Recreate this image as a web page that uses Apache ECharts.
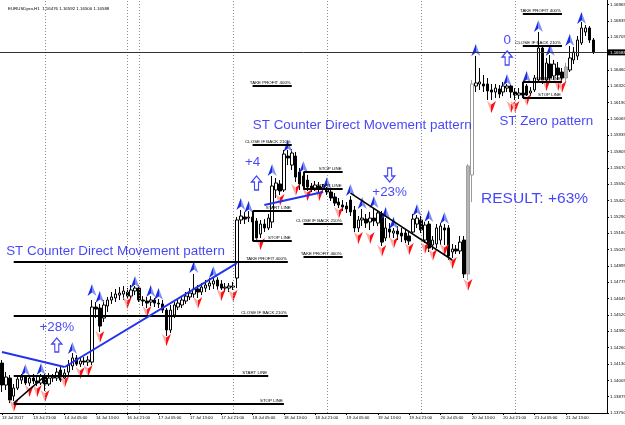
<!DOCTYPE html>
<html>
<head>
    <meta charset="utf-8">
    <title>EURUSDpro,H1</title>
    <script src="https://cdn.jsdelivr.net/npm/echarts@6.0.0/dist/echarts.min.js"></script>
    <style>
        html, body { margin: 0; padding: 0; background: #fff; }
        #chart { width: 625px; height: 425px; }
    </style>
</head>
<body>
<div id="chart"></div>
<script>
// time labels, one every 8 bars
var tickLabels = ['13 Jul 2017', '13 Jul 21:00', '14 Jul 05:00', '14 Jul 13:00', '16 Jul 21:00', '17 Jul 05:00',
    '17 Jul 13:00', '17 Jul 21:00', '18 Jul 05:00', '18 Jul 13:00', '18 Jul 21:00', '19 Jul 05:00', '19 Jul 13:00',
    '19 Jul 21:00', '20 Jul 05:00', '20 Jul 13:00', '20 Jul 21:00', '21 Jul 05:00', '21 Jul 13:00'];

// price scale labels from bottom to top ('' = hidden under the price box)
var priceLabels = ['1.13750', '1.13875', '1.14005', '1.14130', '1.14260', '1.14390', '1.14520', '1.14645', '1.14775',
    '1.14895', '1.15025', '1.15160', '1.15290', '1.15420', '1.15550', '1.15670', '1.15805', '1.15935', '1.16065',
    '1.16190', '1.16320', '1.16460', '', '1.16705', '1.16835', '1.16965'];
var priceMin = 1.1375, priceMax = 1.17, priceStep = 0.001286;
var lastPrice = 1.16588;
var header = 'EURUSDpro,H1  1.16476 1.16592 1.16500 1.16588';

// H1 bars: [open, close, low, high]
var candles = [
    [1.14143, 1.13970, 1.13915, 1.14167], [1.13970, 1.14033, 1.13931, 1.14072], [1.14025, 1.13852, 1.13828, 1.14049],
    [1.13883, 1.13946, 1.13844, 1.13978], [1.13946, 1.14017, 1.13931, 1.14049], [1.14009, 1.14033, 1.13978, 1.14057],
    [1.14033, 1.13986, 1.13970, 1.14049], [1.13986, 1.14025, 1.13962, 1.14041], [1.14025, 1.14002, 1.13978, 1.14057],
    [1.14002, 1.13986, 1.13962, 1.14033], [1.13986, 1.14041, 1.13970, 1.14057], [1.14041, 1.13978, 1.13923, 1.14057],
    [1.13978, 1.14025, 1.13962, 1.14064], [1.14025, 1.14033, 1.13994, 1.14057], [1.14025, 1.14072, 1.14002, 1.14104],
    [1.14088, 1.14009, 1.13994, 1.14112], [1.14025, 1.14064, 1.14017, 1.14096], [1.14072, 1.14127, 1.14041, 1.14167],
    [1.14120, 1.14183, 1.14088, 1.14222], [1.14183, 1.14135, 1.14120, 1.14206], [1.14135, 1.14159, 1.14112, 1.14190],
    [1.14159, 1.14151, 1.14127, 1.14190], [1.14151, 1.14167, 1.14120, 1.14198], [1.14151, 1.14584, 1.14127, 1.14639],
    [1.14584, 1.14568, 1.14497, 1.14623], [1.14576, 1.14434, 1.14387, 1.14608], [1.14497, 1.14600, 1.14466, 1.14639],
    [1.14592, 1.14639, 1.14545, 1.14663], [1.14639, 1.14663, 1.14608, 1.14702], [1.14655, 1.14686, 1.14623, 1.14726],
    [1.14678, 1.14694, 1.14639, 1.14741], [1.14686, 1.14710, 1.14639, 1.14749], [1.14702, 1.14670, 1.14647, 1.14733],
    [1.14670, 1.14718, 1.14647, 1.14757], [1.14710, 1.14733, 1.14678, 1.14749], [1.14733, 1.14639, 1.14623, 1.14757],
    [1.14639, 1.14631, 1.14592, 1.14670], [1.14631, 1.14615, 1.14576, 1.14663], [1.14623, 1.14639, 1.14592, 1.14670],
    [1.14639, 1.14615, 1.14584, 1.14655], [1.14615, 1.14608, 1.14576, 1.14647], [1.14608, 1.14560, 1.14537, 1.14639],
    [1.14560, 1.14403, 1.14356, 1.14576], [1.14403, 1.14560, 1.14379, 1.14600], [1.14521, 1.14600, 1.14497, 1.14623],
    [1.14584, 1.14615, 1.14560, 1.14655], [1.14600, 1.14639, 1.14576, 1.14670], [1.14631, 1.14670, 1.14608, 1.14702],
    [1.14663, 1.14694, 1.14639, 1.14733], [1.14686, 1.14726, 1.14655, 1.14844], [1.14726, 1.14702, 1.14655, 1.14757],
    [1.14702, 1.14741, 1.14678, 1.14773], [1.14733, 1.14757, 1.14702, 1.14796], [1.14749, 1.14773, 1.14718, 1.14812],
    [1.14765, 1.14789, 1.14726, 1.14820], [1.14796, 1.14749, 1.14718, 1.14820], [1.14765, 1.14733, 1.14718, 1.14796],
    [1.14733, 1.14741, 1.14702, 1.14773], [1.14733, 1.14749, 1.14702, 1.14773], [1.14741, 1.14749, 1.14718, 1.14781],
    [1.14812, 1.15269, 1.14733, 1.15292], [1.15269, 1.15300, 1.15237, 1.15347], [1.15292, 1.15276, 1.15237, 1.15332],
    [1.15284, 1.15292, 1.15253, 1.15339], [1.15292, 1.15253, 1.15221, 1.15332], [1.15261, 1.15127, 1.15095, 1.15284],
    [1.15158, 1.15237, 1.15127, 1.15269], [1.15237, 1.15206, 1.15174, 1.15276], [1.15206, 1.15284, 1.15190, 1.15316],
    [1.15253, 1.15536, 1.15206, 1.15615], [1.15505, 1.15560, 1.15442, 1.15599], [1.15552, 1.15497, 1.15465, 1.15583],
    [1.15505, 1.15788, 1.15489, 1.15820], [1.15772, 1.15757, 1.15701, 1.15820], [1.15701, 1.15796, 1.15662, 1.15827],
    [1.15772, 1.15607, 1.15568, 1.15804], [1.15646, 1.15552, 1.15505, 1.15678], [1.15615, 1.15536, 1.15505, 1.15646],
    [1.15583, 1.15528, 1.15497, 1.15623], [1.15536, 1.15520, 1.15489, 1.15560], [1.15520, 1.15544, 1.15497, 1.15576],
    [1.15536, 1.15513, 1.15489, 1.15568], [1.15513, 1.15528, 1.15489, 1.15552], [1.15520, 1.15489, 1.15465, 1.15528],
    [1.15489, 1.15442, 1.15418, 1.15513], [1.15450, 1.15402, 1.15379, 1.15481], [1.15410, 1.15387, 1.15363, 1.15442],
    [1.15387, 1.15371, 1.15339, 1.15426], [1.15379, 1.15355, 1.15324, 1.15410], [1.15426, 1.15332, 1.15300, 1.15457],
    [1.15347, 1.15206, 1.15174, 1.15379], [1.15206, 1.15269, 1.15174, 1.15300], [1.15269, 1.15284, 1.15221, 1.15355],
    [1.15276, 1.15245, 1.15206, 1.15316], [1.15253, 1.15284, 1.15190, 1.15332], [1.15284, 1.15261, 1.15221, 1.15363],
    [1.15245, 1.15324, 1.15221, 1.15347], [1.15316, 1.15095, 1.15064, 1.15339], [1.15127, 1.15206, 1.15103, 1.15284],
    [1.15198, 1.15174, 1.15127, 1.15245], [1.15166, 1.15182, 1.15127, 1.15206], [1.15182, 1.15158, 1.15111, 1.15221],
    [1.15166, 1.15143, 1.15095, 1.15206], [1.15166, 1.15111, 1.15088, 1.15198], [1.15143, 1.15103, 1.15072, 1.15174],
    [1.15174, 1.15276, 1.15158, 1.15316], [1.15237, 1.15284, 1.15206, 1.15308], [1.15269, 1.15190, 1.15166, 1.15300],
    [1.15111, 1.15229, 1.15088, 1.15253], [1.15237, 1.15048, 1.15017, 1.15261], [1.15072, 1.15111, 1.15033, 1.15143],
    [1.15080, 1.15206, 1.15048, 1.15237], [1.15111, 1.15221, 1.15072, 1.15245], [1.15206, 1.15190, 1.15072, 1.15237],
    [1.15206, 1.14985, 1.14954, 1.15229], [1.15017, 1.15040, 1.14970, 1.15080], [1.15040, 1.15025, 1.15001, 1.15072],
    [1.15025, 1.15095, 1.15001, 1.15143], [1.15111, 1.14844, 1.14812, 1.15143], [1.14844, 1.15694, 1.14796, 1.15709],
    [1.15623, 1.16339, 1.15410, 1.16370], [1.16323, 1.16347, 1.16276, 1.16559], [1.16339, 1.16355, 1.16292, 1.16465],
    [1.16339, 1.16323, 1.16276, 1.16410], [1.16339, 1.16284, 1.16213, 1.16386], [1.16292, 1.16276, 1.16213, 1.16339],
    [1.16276, 1.16307, 1.16229, 1.16339], [1.16300, 1.16260, 1.16229, 1.16331], [1.16276, 1.16323, 1.16244, 1.16355],
    [1.16307, 1.16323, 1.16276, 1.16339], [1.16323, 1.16276, 1.16229, 1.16339], [1.16276, 1.16252, 1.16213, 1.16307],
    [1.16252, 1.16268, 1.16221, 1.16307], [1.16268, 1.16252, 1.16229, 1.16339], [1.16323, 1.16252, 1.16244, 1.16339],
    [1.16268, 1.16284, 1.16244, 1.16315], [1.16292, 1.16386, 1.16276, 1.16410], [1.16370, 1.16622, 1.16355, 1.16748],
    [1.16622, 1.16370, 1.16339, 1.16646], [1.16370, 1.16504, 1.16363, 1.16544], [1.16496, 1.16386, 1.16355, 1.16567],
    [1.16402, 1.16496, 1.16370, 1.16528], [1.16465, 1.16410, 1.16370, 1.16512], [1.16433, 1.16386, 1.16355, 1.16465],
    [1.16386, 1.16473, 1.16355, 1.16504], [1.16449, 1.16544, 1.16433, 1.16638], [1.16528, 1.16591, 1.16496, 1.16630],
    [1.16559, 1.16685, 1.16528, 1.16717], [1.16662, 1.16780, 1.16646, 1.16827], [1.16748, 1.16780, 1.16717, 1.16803],
    [1.16780, 1.16685, 1.16662, 1.16795], [1.16685, 1.16588, 1.16575, 1.16701]
];
var emptyBarsRight = 3;
var grayBars = [119, 144];
var grayOutlineBars = [120];

// signal arrows [bar, price]
var upArrows = [[6, 1.14088], [10, 1.14096], [18, 1.14261], [23, 1.14718], [25, 1.14663], [34, 1.14781], [38, 1.14710],
    [40, 1.14686], [49, 1.14899], [54, 1.14859], [61, 1.15395], [63, 1.15371], [69, 1.15662], [73, 1.15851],
    [77, 1.15686], [83, 1.15560], [89, 1.15505], [92, 1.15402], [95, 1.15410], [98, 1.15324], [100, 1.15245],
    [106, 1.15347], [109, 1.15300], [113, 1.15284], [121, 1.16607], [129, 1.16370], [134, 1.16394], [137, 1.16795],
    [140, 1.16607], [145, 1.16685], [148, 1.16858]];
var downArrows = [[3, 1.13805], [7, 1.13923], [9, 1.13923], [11, 1.13883], [16, 1.13994], [20, 1.14064], [22, 1.14080],
    [25, 1.14348], [32, 1.14615], [37, 1.14545], [42, 1.14324], [50, 1.14615], [56, 1.14678], [59, 1.14670],
    [66, 1.15080], [71, 1.15426], [75, 1.15505], [78, 1.15465], [81, 1.15465], [86, 1.15324], [91, 1.15127],
    [94, 1.15127], [97, 1.15025], [100, 1.15088], [104, 1.15040], [108, 1.15048], [110, 1.14993], [113, 1.15033],
    [115, 1.14930], [119, 1.14757], [125, 1.16158], [130, 1.16158], [131, 1.16158], [134, 1.16213], [139, 1.16331],
    [142, 1.16331], [143, 1.16315]];

// pattern levels [text, first bar, last bar, price]
var levels = [
    ['TAKE PROFIT 400%', 3, 73, 1.14938], ['CLOSE IF BACK 210%', 3, 73, 1.14513],
    ['START LINE', 3, 68, 1.14041], ['STOP LINE', 3, 72, 1.13821],
    ['TAKE PROFIT 400%', 64, 74, 1.16323], ['CLOSE IF BACK 210%', 64, 74, 1.15859],
    ['START LINE', 64, 74, 1.15339], ['STOP LINE', 64, 74, 1.15103],
    ['STOP LINE', 77, 87, 1.15646], ['START LINE', 77, 87, 1.15513],
    ['CLOSE IF BACK 210%', 77, 87, 1.15237], ['TAKE PROFIT 400%', 77, 87, 1.14977],
    ['TAKE PROFIT 400%', 133, 143, 1.16890], ['CLOSE IF BACK 210%', 133, 143, 1.16638],
    ['START LINE', 133, 143, 1.16355], ['STOP LINE', 133, 143, 1.16229]
];
// bracket between start and stop [bar, price1, price2]
var brackets = [[64, 1.15339, 1.15103], [77, 1.15646, 1.15513], [133, 1.16355, 1.16229]];
var blueLines = [[[0, 1.14230], [16, 1.14112]], [[16, 1.14112], [60, 1.14930]], [[67, 1.15387], [82, 1.15489]]];
var blackLines = [[[3, 1.13828], [11, 1.14041]], [[89, 1.15481], [115, 1.14954]]];
var daySeparators = [11, 32, 35, 59, 83, 107, 131];

// big hollow arrows [direction, bar, price]
var hollowArrows = [['up', 14, 1.14285], ['up', 65, 1.15560], ['down', 99, 1.15623], ['up', 129, 1.16544]];
// comments [text, bar, price]
var notes = [
    ['ST Counter Direct Movement pattern', 29, 1.15025], ['ST Counter Direct Movement pattern', 92, 1.16016],
    ['ST Zero pattern', 139, 1.16048], ['RESULT: +63%', 136, 1.15434],
    ['+28%', 14, 1.14426], ['+4', 64, 1.15725], ['+23%', 99, 1.15489], ['0', 129, 1.16685]
];

var chart = echarts.init(document.getElementById('chart'), null, {renderer: 'canvas'});

var categories = [];
for (var i = 0; i < candles.length + emptyBarsRight; i++) categories.push(String(i));

var barData = candles.map(function (c, i) {
    if (grayBars.indexOf(i) >= 0)
        return {value: c, itemStyle: {color: '#b4b4b4', color0: '#b4b4b4', borderColor: '#a0a0a0', borderColor0: '#a0a0a0'}};
    if (grayOutlineBars.indexOf(i) >= 0)
        return {value: c, itemStyle: {color: '#fff', borderColor: '#9a9a9a'}};
    return c;
});

var smallFont = 4.4;
var blue = '#1717f5';

// lines of the trading patterns, on the candles
var marks = [];
levels.forEach(function (l) {
    marks.push([
        {coord: [l[1], l[3]], lineStyle: {color: '#000', width: 2, type: 'solid'},
            label: {show: true, position: 'insideEndTop', distance: 1, formatter: l[0], fontSize: smallFont, color: '#000'}},
        {coord: [l[2], l[3]]}
    ]);
});
brackets.forEach(function (b) {
    marks.push([{coord: [b[0], b[1]], lineStyle: {color: '#000', width: 2, type: 'solid'}, label: {show: false}},
        {coord: [b[0], b[2]]}]);
});
blueLines.forEach(function (s) {
    marks.push([{coord: s[0], lineStyle: {color: '#2233ee', width: 2, type: 'solid'}, label: {show: false}}, {coord: s[1]}]);
});
blackLines.forEach(function (s) {
    marks.push([{coord: s[0], lineStyle: {color: '#000', width: 1.5, type: 'solid'}, label: {show: false}}, {coord: s[1]}]);
});

// separators and price line go on a plain scatter series
var gridMarks = [];
daySeparators.forEach(function (b) {
    gridMarks.push({xAxis: b, label: {show: false}, lineStyle: {color: '#8c8c8c', width: 1, type: [1, 2]}});
});
gridMarks.push({yAxis: lastPrice, lineStyle: {color: '#333', width: 1, type: 'solid'},
    label: {show: true, position: 'end', distance: 1, formatter: lastPrice.toFixed(5), color: '#fff',
        backgroundColor: '#000', fontSize: smallFont, padding: [1, 2]}});

function halfFill(left, right) {
    return {type: 'linear', x: 0, y: 0, x2: 1, y2: 0, colorStops: [
        {offset: 0, color: left}, {offset: 0.5, color: left}, {offset: 0.5, color: right}, {offset: 1, color: right}]};
}

var option = {
    animation: false,
    backgroundColor: '#fff',
    textStyle: {fontFamily: 'Liberation Sans, Arial, sans-serif'},
    title: {text: header, left: 3, top: 2, textStyle: {fontSize: smallFont, fontWeight: 'normal', color: '#000'}},
    grid: {left: 0, right: 18, top: 0, bottom: 12, containLabel: false, outerBoundsMode: 'none'},
    xAxis: {
        type: 'category',
        data: categories,
        boundaryGap: true,
        axisLine: {lineStyle: {color: '#000', width: 1}},
        axisTick: {show: true, alignWithLabel: true, length: 2, lineStyle: {color: '#000'},
            interval: function (idx) { return idx % 8 === 0 && idx < candles.length; }},
        axisLabel: {
            fontSize: 4.2, color: '#000', align: 'left', margin: 3,
            interval: function (idx) { return idx % 8 === 0 && idx < candles.length; },
            formatter: function (v, idx) { return tickLabels[idx / 8] || ''; }
        },
        splitLine: {show: false}
    },
    yAxis: {
        type: 'value',
        position: 'right',
        min: priceMin,
        max: priceMax,
        interval: priceStep,
        axisLine: {show: true, lineStyle: {color: '#000', width: 1}},
        axisTick: {show: true, length: 2, lineStyle: {color: '#000'}},
        splitLine: {show: false},
        axisLabel: {
            fontSize: 4.4, color: '#000', margin: 3, showMaxLabel: false,
            formatter: function (v) {
                var k = Math.round((v - priceMin) / priceStep);
                if (Math.abs(v - (priceMin + k * priceStep)) > priceStep * 0.1) return '';
                return priceLabels[k] || '';
            }
        }
    },
    series: [
        {
            name: 'grid marks',
            type: 'scatter',
            data: [],
            markLine: {silent: true, symbol: ['none', 'none'], precision: 5, animation: false, data: gridMarks},
            z: 1
        },
        {
            name: 'EURUSDpro',
            type: 'candlestick',
            data: barData,
            barWidth: 3,
            itemStyle: {color: '#fff', color0: '#000', borderColor: '#000', borderColor0: '#000', borderWidth: 1},
            markLine: {silent: true, symbol: ['none', 'none'], precision: 5, animation: false, data: marks}
        },
        {
            name: 'up signal',
            type: 'scatter',
            data: upArrows,
            symbol: 'path://M5,0 L10,12 L5,8.5 L0,12 Z',
            symbolSize: [9, 12],
            itemStyle: {color: halfFill('#1a2de6', '#8090f0'), opacity: 1},
            z: 4
        },
        {
            name: 'down signal',
            type: 'scatter',
            data: downArrows,
            symbol: 'path://M0,0 L5,3.5 L10,0 L5,12 Z',
            symbolSize: [9, 12],
            itemStyle: {color: halfFill('#ffa8a8', '#ff1010'), opacity: 1},
            z: 4
        },
        {
            name: 'direction',
            type: 'scatter',
            data: hollowArrows.map(function (h) {
                return {value: [h[1], h[2]], symbolRotate: h[0] === 'down' ? 180 : 0};
            }),
            symbol: 'path://M5,0 L10,6 L7,6 L7,14 L3,14 L3,6 L0,6 Z',
            symbolSize: [10, 14],
            itemStyle: {color: '#fff', borderColor: blue, borderWidth: 1.3},
            z: 5
        },
        {
            name: 'notes',
            type: 'scatter',
            data: notes.map(function (n) {
                return {name: n[0], value: [n[1], n[2]],
                    label: {fontSize: n[0].indexOf('RESULT') === 0 ? 15.5 : 13.4}};
            }),
            symbolSize: 1,
            itemStyle: {color: 'rgba(0,0,0,0)'},
            label: {show: true, position: 'inside', formatter: '{b}', color: blue, fontFamily: 'Liberation Sans'},
            z: 6
        }
    ]
};
chart.setOption(option);
</script>
</body>
</html>
